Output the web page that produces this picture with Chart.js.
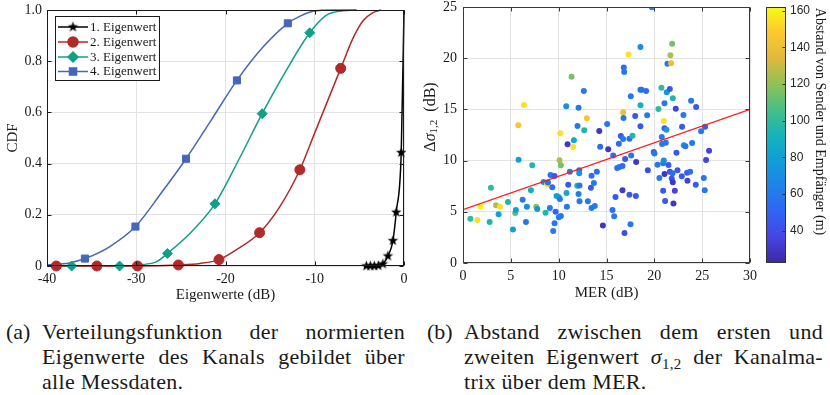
<!DOCTYPE html>
<html><head><meta charset="utf-8">
<script src="https://cdn.jsdelivr.net/npm/chart.js@4.4.1/dist/chart.umd.min.js"></script>
<style>
html,body{margin:0;padding:0;background:#fff;}
body{width:830px;height:395px;position:relative;overflow:hidden;font-family:'Liberation Serif',serif;color:#1a1a1a;}
#c1{position:absolute;left:0;top:0;}
#c2{position:absolute;left:415px;top:0;}
.cap{position:absolute;top:319px;font-size:22px;line-height:25px;letter-spacing:0.3px;}
.lab{position:absolute;top:319px;font-size:22px;line-height:25px;}
.ln{text-align:justify;text-align-last:justify;height:25px;}
.last{text-align:left;text-align-last:left;}
.sub{font-size:15px;position:relative;top:5px;line-height:0;}
</style>
</head><body>
<canvas id="c1" width="415" height="305"></canvas>
<canvas id="c2" width="415" height="305"></canvas>
<div class="lab" style="left:6px">(a)</div>
<div class="cap" style="left:42px;width:363px">
  <div class="ln">Verteilungsfunktion der normierten</div>
  <div class="ln">Eigenwerte des Kanals gebildet über</div>
  <div class="ln last">alle Messdaten.</div>
</div>
<div class="lab" style="left:427px">(b)</div>
<div class="cap" style="left:464px;width:359px">
  <div class="ln">Abstand zwischen dem ersten und</div>
  <div class="ln">zweiten Eigenwert <i>σ</i><span class="sub">1,2</span> der Kanalma-</div>
  <div class="ln last">trix über dem MER.</div>
</div>
<script>
// ---------------- DATA: CDF of eigenvalues ----------------
const seriesNames = ['1. Eigenwert','2. Eigenwert','3. Eigenwert','4. Eigenwert'];
const ev1X = [-4.4,-4.22,-3.77,-3.33,-2.88,-2.36,-1.80,-1.24,-0.87,-0.31,0];
const ev1Y = [0,0,0,0,0.001,0.008,0.039,0.099,0.21,0.443,1.0];
const ev1MarkX = [-4.22,-3.77,-3.33,-2.88,-2.36,-1.80,-1.24,-0.87,-0.31];
const ev1MarkY = [0,0,0,0.001,0.008,0.039,0.099,0.21,0.443];

const ev2X = [-40,-38.96,-34.41,-29.86,-25.28,-22.86,-20.73,-19.13,-16.18,-13.91,-11.67,-10.0,-7.09,-5.71,-4.59,-3.47,-2.54];
const ev2Y = [0,0,0,0,0.004,0.01,0.025,0.056,0.13,0.232,0.376,0.52,0.772,0.89,0.958,0.99,1.0];
const ev2MarkX = [-38.96,-34.41,-29.86,-25.28,-20.73,-16.18,-11.67,-7.09];
const ev2MarkY = [0,0,0,0.004,0.025,0.13,0.376,0.772];

const ev3X = [-40,-37.24,-31.87,-29.19,-27.7,-26.51,-23.97,-21.18,-18.53,-15.89,-13.16,-10.56,-8.69,-6.83,-5.34];
const ev3Y = [0,0,0,0.006,0.017,0.049,0.128,0.243,0.414,0.595,0.766,0.911,0.98,0.997,1.0];
const ev3MarkX = [-37.24,-31.87,-26.51,-21.18,-15.89,-10.56];
const ev3MarkY = [0,0,0.049,0.243,0.595,0.911];

const ev4X = [-40,-37.5,-35.75,-33,-30.09,-27.2,-24.42,-21.6,-18.72,-15.8,-13.02,-11.7,-10.2,-8,-5.3];
const ev4Y = [0.004,0.012,0.029,0.075,0.154,0.285,0.419,0.57,0.725,0.855,0.948,0.975,0.995,1.0,1.0];
const ev4MarkX = [-35.75,-30.09,-24.42,-18.72,-13.02];
const ev4MarkY = [0.029,0.154,0.419,0.725,0.948];

// ---------------- DATA: scatter MER vs delta sigma ----------------
const merDb = [0.77,1.50,1.84,2.78,2.92,3.45,3.72,3.86,4.70,5.22,5.46,5.53,5.81,5.78,6.23,6.37,6.58,6.68,7.10,7.24,
7.66,7.76,8.42,8.63,8.80,8.88,9.08,9.15,9.33,9.43,9.57,9.57,9.68,9.78,9.99,10.02,10.09,10.16,10.23,10.13,
10.23,10.79,10.82,10.86,10.93,11.00,11.17,11.35,11.52,11.59,11.94,11.97,12.08,12.08,12.15,12.15,12.18,12.18,12.63,12.67,
12.95,13.05,13.37,13.44,13.44,13.68,13.78,13.99,14.24,14.34,14.62,15.07,15.18,15.70,15.63,15.80,15.94,16.12,16.29,16.36,
16.50,16.67,16.67,16.74,16.74,16.78,16.81,16.85,16.88,16.95,17.30,17.40,17.40,17.51,17.54,17.58,17.72,18.00,18.07,18.10,
18.55,18.55,18.55,18.55,18.66,19.14,19.25,19.32,19.74,19.94,20.01,20.33,20.43,20.53,20.74,20.78,20.81,20.92,20.92,20.99,
20.99,21.06,21.06,21.06,21.13,21.20,21.27,21.30,21.37,21.48,21.62,21.62,21.68,21.75,21.86,21.93,21.82,21.93,22.00,21.90,
22.14,22.24,22.31,22.42,22.87,22.90,23.04,23.08,23.25,23.43,23.46,23.74,23.84,23.95,24.33,24.37,24.89,25.17,25.27,25.30,
25.41,25.72];
const deltaSigma = [4.33,4.20,5.50,4.00,7.36,5.63,4.75,5.50,5.96,3.26,4.88,5.18,10.09,13.44,6.18,15.43,4.00,5.50,7.10,9.54,
5.50,5.27,7.90,4.90,7.70,7.85,5.37,8.60,7.40,3.13,8.50,3.87,5.00,6.54,6.45,4.46,10.03,12.66,9.54,6.25,
4.60,15.30,6.84,5.50,11.59,7.65,8.90,18.20,11.33,11.98,7.55,13.38,15.17,6.74,9.05,8.76,7.58,6.02,16.80,12.96,
14.13,6.02,7.36,8.53,5.37,7.81,5.57,8.90,12.89,11.36,3.65,13.57,11.10,10.50,5.18,4.56,6.45,9.28,11.65,9.38,
12.40,9.47,7.10,14.71,12.10,14.16,19.08,18.65,2.93,10.16,20.35,12.14,6.67,3.78,16.28,10.50,12.43,14.36,6.54,9.86,
21.10,15.40,13.35,16.93,16.93,16.80,14.42,9.05,24.97,10.84,10.70,9.60,15.04,8.30,17.12,12.30,11.62,7.06,9.73,13.87,
10.00,8.70,15.60,13.15,6.05,11.75,13.02,16.67,19.47,9.57,8.90,17.00,20.30,19.50,21.40,16.10,8.24,7.88,5.80,8.76,
7.06,15.07,10.77,9.05,8.46,13.31,14.45,11.49,11.39,8.82,8.04,8.90,15.85,11.72,7.65,15.23,12.86,8.30,7.10,13.31,
10.06,10.97];
const distanceM = [100,155,160,95,100,125,80,155,95,80,110,80,80,145,60,155,60,70,90,95,
120,75,70,95,155,55,60,60,55,60,45,60,50,80,80,60,125,155,115,60,
60,70,85,60,30,45,60,115,155,85,95,60,60,60,55,75,60,60,60,95,
145,60,45,55,60,60,60,55,30,55,30,60,30,55,55,60,45,55,55,60,
45,55,30,140,60,60,55,60,40,45,155,55,45,60,60,60,95,45,45,30,
70,90,45,55,55,55,60,40,65,45,60,60,100,60,100,60,60,45,60,155,
70,30,60,45,45,60,75,75,60,45,45,45,125,140,115,95,45,30,30,55,
35,35,45,45,45,45,60,75,60,45,35,55,60,60,45,45,60,60,60,45,
35,35];
const fitX = [0, 30];
const fitY = [5.2, 15.0];
const colorTicks = [40,60,80,100,120,140,160];
const colorMin = 22.5, colorMax = 162;

// ---------------- helpers / styles ----------------
const SERIF = "'Liberation Serif', serif";
Chart.defaults.font.family = SERIF;
Chart.defaults.color = '#262626';
const pts = (xs, ys) => xs.map((x, i) => ({x, y: ys[i]}));

const parulaStops = [
  [0.0,[60,40,160]],[0.1,[70,68,228]],[0.2,[48,100,245]],[0.3,[32,130,234]],[0.4,[15,158,216]],
  [0.5,[20,180,186]],[0.6,[70,192,135]],[0.7,[145,193,85]],[0.8,[225,185,60]],[0.9,[252,200,45]],[1.0,[249,251,20]]
];
function parula(t){
  t = Math.max(0, Math.min(1, t));
  for (let i = 1; i < parulaStops.length; i++){
    if (t <= parulaStops[i][0]){
      const [t0,c0] = parulaStops[i-1], [t1,c1] = parulaStops[i];
      const f = (t - t0)/(t1 - t0);
      const c = c0.map((v,k)=>Math.round(v + (c1[k]-v)*f));
      return `rgb(${c[0]},${c[1]},${c[2]})`;
    }
  }
  return 'rgb(249,251,20)';
}
const distColor = v => parula((v - colorMin)/(colorMax - colorMin));

function makeStar(r){
  const s = Math.ceil(r*2+2);
  const c = document.createElement('canvas'); c.width = s; c.height = s;
  const g = c.getContext('2d'); g.beginPath();
  for (let i = 0; i < 10; i++){
    const a = -Math.PI/2 + i*Math.PI/5, rr = (i % 2) ? r*0.42 : r;
    g.lineTo(s/2 + rr*Math.cos(a), s/2 + rr*Math.sin(a));
  }
  g.closePath(); g.fillStyle = '#000'; g.fill();
  return c;
}
const starImg = makeStar(5.5);

const COL = {k:'#000000', r:'#b02a2a', g:'#10a088', b:'#4666b8'};
const markerStyles = [
  {pointStyle: starImg, radius: 6, color: COL.k},
  {pointStyle: 'circle', radius: 5, color: COL.r},
  {pointStyle: 'rectRot', radius: 5, color: COL.g},
  {pointStyle: 'rect', radius: 5, color: COL.b}
];

function zeroPad(s){ s.paddingTop = 0; s.paddingBottom = 0; s.paddingLeft = 0; s.paddingRight = 0; }

function boxAndTicks(chart, color){
  const {ctx, chartArea: a, scales} = chart;
  ctx.save();
  ctx.strokeStyle = color; ctx.lineWidth = 1;
  const L = Math.round(a.left)+0.5, R = Math.round(a.right)-0.5, T = Math.round(a.top)+0.5, B = Math.round(a.bottom)-0.5;
  ctx.strokeRect(L, T, R-L, B-T);
  ctx.beginPath();
  scales.x.ticks.forEach(t => {
    const x = Math.round(scales.x.getPixelForValue(t.value))+0.5;
    ctx.moveTo(x, B); ctx.lineTo(x, B-4);
    ctx.moveTo(x, T); ctx.lineTo(x, T+4);
  });
  scales.y.ticks.forEach(t => {
    const y = Math.round(scales.y.getPixelForValue(t.value))+0.5;
    ctx.moveTo(L, y); ctx.lineTo(L+4, y);
    ctx.moveTo(R, y); ctx.lineTo(R-4, y);
  });
  ctx.stroke();
  ctx.restore();
}

// ---------------- Chart 1: CDF ----------------
const curveDs = (xs, ys, col) => ({data: pts(xs, ys), showLine: true, borderColor: col, borderWidth: 1.5,
  pointRadius: 0, cubicInterpolationMode: 'monotone', clip: false, order: 2});
const markDs = (xs, ys, m) => ({data: pts(xs, ys), showLine: false, pointStyle: m.pointStyle, pointRadius: m.radius,
  pointHoverRadius: m.radius, backgroundColor: m.color, borderColor: m.color, borderWidth: 1, clip: false, order: 1});

const legendPlugin = {
  id: 'cdfDecor',
  afterDraw(chart){
    boxAndTicks(chart, '#1a1a1a');
    const ctx = chart.ctx;
    ctx.save();
    ctx.fillStyle = '#fff'; ctx.strokeStyle = '#1a1a1a'; ctx.lineWidth = 1;
    ctx.fillRect(55.5, 16.5, 104, 64); ctx.strokeRect(55.5, 16.5, 104, 64);
    const rows = [27, 42, 57, 71.5];
    const cols = [COL.k, COL.r, COL.g, COL.b];
    rows.forEach((y, i) => {
      ctx.strokeStyle = cols[i]; ctx.lineWidth = 1.5;
      ctx.beginPath(); ctx.moveTo(58, y); ctx.lineTo(88, y); ctx.stroke();
      const m = markerStyles[i];
      ctx.fillStyle = m.color; ctx.strokeStyle = m.color;
      Chart.helpers.drawPoint(ctx, {pointStyle: m.pointStyle, radius: m.radius, rotation: 0, borderWidth: 1}, 73, y);
      ctx.fillStyle = '#1a1a1a';
      ctx.font = `13px ${SERIF}`; ctx.textBaseline = 'middle'; ctx.textAlign = 'left';
      ctx.fillText(seriesNames[i], 90, y + 0.5);
    });
    ctx.restore();
  }
};

new Chart(document.getElementById('c1'), {
  type: 'scatter',
  data: {datasets: [
    curveDs(ev1X, ev1Y, COL.k), markDs(ev1MarkX, ev1MarkY, markerStyles[0]),
    curveDs(ev2X, ev2Y, COL.r), markDs(ev2MarkX, ev2MarkY, markerStyles[1]),
    curveDs(ev3X, ev3Y, COL.g), markDs(ev3MarkX, ev3MarkY, markerStyles[2]),
    curveDs(ev4X, ev4Y, COL.b), markDs(ev4MarkX, ev4MarkY, markerStyles[3])
  ]},
  options: {
    responsive: false, animation: false, devicePixelRatio: 1,
    layout: {padding: {top: 10, right: 11, left: 0, bottom: 0}},
    plugins: {legend: {display: false}, tooltip: {enabled: false}},
    scales: {
      x: {type: 'linear', min: -40, max: 0,
        ticks: {stepSize: 10, padding: 5, font: {size: 14}, color: '#1a1a1a', maxRotation: 0},
        grid: {color: '#e3e3e3', drawTicks: false}, border: {display: false},
        title: {display: true, text: 'Eigenwerte (dB)', font: {size: 15}, color: '#1a1a1a', padding: {top: 0, bottom: 1}},
        afterFit: s => { s.height = 39; zeroPad(s); }},
      y: {type: 'linear', min: 0, max: 1,
        ticks: {stepSize: 0.2, padding: 5, font: {size: 14}, color: '#1a1a1a'},
        grid: {color: '#e3e3e3', drawTicks: false}, border: {display: false},
        title: {display: true, text: 'CDF', font: {size: 15}, color: '#1a1a1a', padding: {top: 4, bottom: 0}},
        afterFit: s => { s.width = 47; zeroPad(s); }}
    }
  },
  plugins: [legendPlugin]
});

// ---------------- Chart 2: scatter ----------------
const scatterPlugin = {
  id: 'scatterDecor',
  afterDraw(chart){
    boxAndTicks(chart, '#3a3a3a');
    const {ctx, chartArea: a, scales} = chart;
    const cs = scales.c;
    ctx.save();
    const x0 = a.right + 16, w = 20, top = cs.top, bot = cs.bottom;
    const grad = ctx.createLinearGradient(0, bot, 0, top);
    for (let i = 0; i <= 40; i++) grad.addColorStop(i/40, parula(i/40));
    ctx.fillStyle = grad; ctx.fillRect(x0, top, w, bot - top);
    ctx.strokeStyle = '#333'; ctx.lineWidth = 1;
    ctx.strokeRect(Math.round(x0)+0.5, Math.round(top)+0.5, w-1, Math.round(bot-top)-1);
    ctx.beginPath();
    colorTicks.forEach(v => {
      const y = Math.round(cs.getPixelForValue(v))+0.5;
      ctx.moveTo(x0 + w - 0.5, y); ctx.lineTo(x0 + w - 3.5, y);
    });
    ctx.stroke();
    ctx.fillStyle = '#1a1a1a';
    ctx.save();
    ctx.translate(405, 121.5); ctx.rotate(Math.PI/2);
    ctx.font = `14px ${SERIF}`; ctx.textAlign = 'center'; ctx.textBaseline = 'middle';
    ctx.fillText('Abstand von Sender und Empfänger (m)', 0, 0);
    ctx.restore();
    ctx.save();
    ctx.translate(15.5, 117); ctx.rotate(-Math.PI/2);
    const parts = [
      {t: 'Δ', f: `16px ${SERIF}`, dy: 0},
      {t: 'σ', f: `italic 16px ${SERIF}`, dy: 0},
      {t: '1,2', f: `11px ${SERIF}`, dy: 4},
      {t: '  (dB)', f: `16px ${SERIF}`, dy: 0}
    ];
    let tot = 0;
    parts.forEach(p => { ctx.font = p.f; p.w = ctx.measureText(p.t).width; tot += p.w; });
    let x = -tot/2;
    ctx.textBaseline = 'middle'; ctx.textAlign = 'left';
    parts.forEach(p => { ctx.font = p.f; ctx.fillText(p.t, x, p.dy); x += p.w; });
    ctx.restore();
    ctx.restore();
  }
};

new Chart(document.getElementById('c2'), {
  type: 'scatter',
  data: {datasets: [
    {data: pts(fitX, fitY), showLine: true, borderColor: '#ff1a1a', borderWidth: 1.2, pointRadius: 0, order: 0},
    {data: pts(merDb, deltaSigma), showLine: false, pointRadius: 3, pointHoverRadius: 3, borderWidth: 0,
      backgroundColor: distanceM.map(distColor), order: 1}
  ]},
  options: {
    responsive: false, animation: false, devicePixelRatio: 1,
    layout: {padding: {top: 7, right: 0, left: 0, bottom: 0}},
    plugins: {legend: {display: false}, tooltip: {enabled: false}},
    scales: {
      x: {type: 'linear', min: 0, max: 30,
        ticks: {stepSize: 5, padding: 5, font: {size: 14}, color: '#1a1a1a', maxRotation: 0},
        grid: {color: '#e3e3e3', drawTicks: false}, border: {display: false},
        title: {display: true, text: 'MER (dB)', font: {size: 15}, color: '#1a1a1a', padding: {top: 0, bottom: 3}},
        afterFit: s => { s.height = 42; zeroPad(s); }},
      y: {type: 'linear', min: 0, max: 25, position: 'left',
        ticks: {stepSize: 5, padding: 6, font: {size: 14}, color: '#1a1a1a'},
        grid: {color: '#e3e3e3', drawTicks: false}, border: {display: false},
        afterFit: s => { s.width = 48; zeroPad(s); }},
      c: {type: 'linear', position: 'right', min: colorMin, max: colorMax,
        afterBuildTicks: s => { s.ticks = colorTicks.map(v => ({value: v})); },
        ticks: {padding: 40, font: {size: 12, family: "'Liberation Sans', Arial, sans-serif"}, color: '#262626'},
        grid: {display: false, drawTicks: false, tickLength: 0}, border: {display: false},
        afterFit: s => { s.width = 80; zeroPad(s); }}
    }
  },
  plugins: [scatterPlugin]
});
</script>
</body></html>
